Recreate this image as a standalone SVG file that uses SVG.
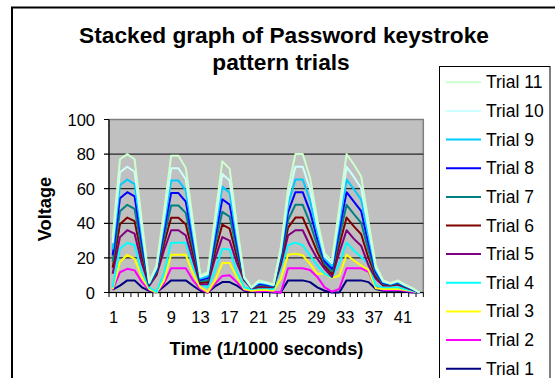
<svg xmlns="http://www.w3.org/2000/svg" width="555" height="378" viewBox="0 0 555 378">
<style>
text{font-family:"Liberation Sans",Arial,sans-serif;fill:#000}
.title{font-size:22.7px;font-weight:bold}
.axt{font-size:18.2px;font-weight:bold}
.tick{font-size:16.5px}
.leg{font-size:17.5px}
.s{fill:none;stroke-width:2;stroke-linejoin:round;vector-effect:non-scaling-stroke}
.s1{stroke:#000080}.s2{stroke:#FF00FF}.s3{stroke:#FFFF00}.s4{stroke:#00FFFF}.s5{stroke:#800080}.s6{stroke:#800000}.s7{stroke:#008080}.s8{stroke:#0000FF}.s9{stroke:#00CCFF}.s10{stroke:#CCFFFF}.s11{stroke:#CCFFCC}
.ll{stroke-width:2}
</style>
<rect x="0" y="0" width="555" height="378" fill="#fff"/>
<rect id="frame" x="12" y="7.5" width="600" height="420" fill="#fff" stroke="#000" stroke-width="2"/>
<g id="title">
<text class="title" x="284" y="43" text-anchor="middle">Stacked graph of Password keystroke</text>
<text class="title" x="281" y="70" text-anchor="middle">pattern trials</text>
</g>
<g id="plot">
<rect x="109" y="119.5" width="314.3" height="173" fill="#C0C0C0" stroke="#808080" stroke-width="1.5"/>
<g stroke="#000" stroke-width="1">
<line x1="109" y1="154.1" x2="423.3" y2="154.1"/>
<line x1="109" y1="188.7" x2="423.3" y2="188.7"/>
<line x1="109" y1="223.3" x2="423.3" y2="223.3"/>
<line x1="109" y1="257.9" x2="423.3" y2="257.9"/>
</g>
<g stroke="#000" stroke-width="1.2">
<line x1="109" y1="119.5" x2="109" y2="292.5"/>
<line x1="109" y1="292.5" x2="423.3" y2="292.5"/>
<path d="M104 119.5H109M104 154.1H109M104 188.7H109M104 223.3H109M104 257.9H109M104 292.5H109"/>
</g>
<line x1="108.5" y1="294.75" x2="424.5" y2="294.75" stroke="#000" stroke-width="4.5" stroke-dasharray="1 6.31"/>
</g>
<g id="y-labels" text-anchor="end">
<text class="tick" x="95" y="125.5">100</text>
<text class="tick" x="95" y="160.1">80</text>
<text class="tick" x="95" y="194.7">60</text>
<text class="tick" x="95" y="229.3">40</text>
<text class="tick" x="95" y="263.9">20</text>
<text class="tick" x="95" y="298.5">0</text>
</g>
<g id="x-labels" text-anchor="middle">
<text class="tick" x="113.5" y="323">1</text>
<text class="tick" x="142.5" y="323">5</text>
<text class="tick" x="171.3" y="323">9</text>
<text class="tick" x="200.4" y="323">13</text>
<text class="tick" x="229.4" y="323">17</text>
<text class="tick" x="258.4" y="323">21</text>
<text class="tick" x="287.4" y="323">25</text>
<text class="tick" x="316.4" y="323">29</text>
<text class="tick" x="345.2" y="323">33</text>
<text class="tick" x="374" y="323">37</text>
<text class="tick" x="403" y="323">41</text>
</g>
<text class="axt" transform="translate(51,209) rotate(-90)" text-anchor="middle">Voltage</text>
<text class="axt" x="266.5" y="355" text-anchor="middle">Time (1/1000 seconds)</text>
<g id="connectors" transform="translate(105.345,292.5) scale(7.31,-1.73)">
<polyline class="s s1" points="1,1.7 2,4 3,7 4,7 5,3 6,1 7,0 8,3.5 9,7 10,7 11,7 12,3.9 13,1 14,0 15,3.5 16,6 17,6 18,4 19,1 20,0.5 21,0.5 22,0.5 23,0 24,0 25,7 26,7 27,7 28,6 29,3 30,1 31,0 32,0 33,7 34,7 35,7 36,6 37,2 38,1 39,1 40,1 41,0.5 42,0 43,0"/>
<polyline class="s s2" points="1,1.7 2,11.7 3,13.7 4,12.8 5,6 6,1.5 7,0 8,5 9,14 10,14 11,14 12,7 13,2 14,0 15,5 16,9.6 17,10 18,6 19,1.5 20,1 21,0.6 22,1 23,0.5 24,0 25,14 26,14 27,14 28,13 29,9 30,3 31,0.5 32,2 33,14 34,14 35,14 36,12 37,3 38,1.5 39,1.5 40,1.5 41,1 42,0.5 43,0"/>
<polyline class="s s3" points="1,2 2,17.6 3,21.8 4,19.5 5,8.9 6,2 7,0 8,6.8 9,21.8 10,21.8 11,21.8 12,10.8 13,2.9 14,0.3 15,6.8 16,17 17,17 18,8.9 19,2 20,1 21,1.5 22,1.5 23,1 24,8 25,21.8 26,22.4 27,21.5 28,16.6 29,10.8 30,10.8 31,8.5 32,9.7 33,21.8 34,18.5 35,15.6 36,13.1 37,2.5 38,2 39,2 40,2 41,1.5 42,0.8 43,0"/>
<polyline class="s s4" points="1,2.9 2,25.3 3,28.8 4,27.3 5,11.8 6,2.9 7,0.3 8,10.8 9,28.8 10,28.8 11,28.8 12,14.7 13,4.8 14,2.9 15,12.7 16,25.3 17,24.9 18,11.8 19,2.9 20,2 21,2.5 22,2.5 23,2 24,14 25,27.3 26,28.8 27,27.3 28,21.4 29,15.6 30,10.8 31,8.9 32,16.6 33,28.8 34,24.3 35,20.5 36,16.6 37,4 38,3 39,3 40,3 41,2 42,1 43,0"/>
<polyline class="s s5" points="1,10.8 2,32 3,36 4,34 5,16.6 6,3.9 7,10 8,24 9,36 10,36 11,33 12,18.5 13,4.8 14,4.8 15,19.5 16,32 17,30 18,17 19,7 20,2.5 21,3 22,3 23,3 24,16 25,33 26,36 27,36 28,27 29,19.5 30,13.7 31,9 32,23 33,36 34,31 35,27 36,15.6 37,8 38,4 39,4 40,4.5 41,3 42,1.5 43,0"/>
<polyline class="s s6" points="1,14.3 2,39.5 3,43.3 4,41.2 5,20.7 6,4.3 7,10.9 8,27.7 9,43.2 10,43.2 11,39.5 12,22.2 13,5.6 14,6 15,23.4 16,39.3 17,36.9 18,20.6 19,7.3 20,2.6 21,3.7 22,3.5 23,3.3 24,17.7 25,37.5 26,43.3 27,43.3 28,33.6 29,23.3 30,15.2 31,10.6 32,27.3 33,43.3 34,38.2 35,33.7 36,19.8 37,9.3 38,4.5 39,4.2 40,4.9 41,3.3 42,1.7 43,0"/>
<polyline class="s s7" points="1,17.9 2,47 3,50.7 4,48.3 5,24.7 6,4.6 7,11.9 8,31.3 9,50.3 10,50.3 11,46 12,25.9 13,6.5 14,7.1 15,27.3 16,46.6 17,43.9 18,24.3 19,7.6 20,2.7 21,4.3 22,4 23,3.5 24,19.3 25,42 26,50.7 27,50.7 28,40.2 29,27 30,16.6 31,12.2 32,31.7 33,50.7 34,45.3 35,40.3 36,24.1 37,10.5 38,5 39,4.5 40,5.3 41,3.5 42,1.8 43,0"/>
<polyline class="s s8" points="1,21.4 2,54.5 3,58 4,55.5 5,28.8 6,5 7,12.8 8,35 9,57.5 10,57.5 11,52.5 12,29.6 13,7.3 14,8.3 15,31.3 16,53.9 17,50.8 18,27.9 19,8 20,2.8 21,5 22,4.5 23,3.8 24,21 25,46.5 26,58 27,58 28,46.8 29,30.8 30,18.1 31,13.8 32,36 33,58 34,52.5 35,47 36,28.3 37,11.8 38,5.5 39,4.7 40,5.8 41,3.8 42,2 43,0"/>
<polyline class="s s9" points="1,24.9 2,62 3,65.3 4,62.7 5,32.9 6,5.3 7,13.7 8,38.7 9,64.7 10,64.7 11,59 12,33.3 13,8.1 14,9.4 15,35.2 16,61.2 17,57.7 18,31.5 19,8.3 20,2.8 21,5.7 22,5 23,4.1 24,22.7 25,51 26,65.3 27,65.3 28,53.3 29,34.5 30,19.5 31,15.3 32,40.3 33,65.3 34,59.7 35,53.7 36,32.5 37,13.1 38,6 39,4.9 40,6.2 41,4 42,2.2 43,0"/>
<polyline class="s s10" points="1,28.5 2,69.5 3,72.7 4,69.8 5,36.9 6,5.7 7,14.7 8,42.3 9,71.8 10,71.8 11,65.5 12,37 13,9 14,10.6 15,39.1 16,68.5 17,64.7 18,35.2 19,8.6 20,2.9 21,6.3 22,5.5 23,4.3 24,24.3 25,55.5 26,72.7 27,72.7 28,59.9 29,38.3 30,21 31,16.9 32,44.7 33,72.7 34,66.8 35,60.3 36,36.8 37,14.3 38,6.5 39,5.2 40,6.6 41,4.3 42,2.3 43,0"/>
<polyline class="s s11" points="1,32 2,77 3,80 4,77 5,41 6,6 7,15.6 8,46 9,79 10,79 11,72 12,40.7 13,9.8 14,11.7 15,43 16,75.8 17,71.6 18,38.8 19,8.9 20,3 21,7 22,6 23,4.6 24,26 25,60 26,80 27,80 28,66.5 29,42 30,22.4 31,18.5 32,49 33,80 34,74 35,67 36,41 37,15.6 38,7 39,5.4 40,7 41,4.5 42,2.5 43,0"/>
</g>
<g id="legend">
<rect x="439.5" y="66.5" width="110.5" height="340" fill="#fff" stroke="#000" stroke-width="1"/>
<g id="leg11"><line class="ll s11" x1="446" y1="82.3" x2="481" y2="82.3"/><text class="leg" x="486" y="88.3">Trial 11</text></g>
<g id="leg10"><line class="ll s10" x1="446" y1="110.9" x2="481" y2="110.9"/><text class="leg" x="486" y="116.9">Trial 10</text></g>
<g id="leg9"><line class="ll s9" x1="446" y1="139.6" x2="481" y2="139.6"/><text class="leg" x="486" y="145.6">Trial 9</text></g>
<g id="leg8"><line class="ll s8" x1="446" y1="168.2" x2="481" y2="168.2"/><text class="leg" x="486" y="174.2">Trial 8</text></g>
<g id="leg7"><line class="ll s7" x1="446" y1="196.9" x2="481" y2="196.9"/><text class="leg" x="486" y="202.9">Trial 7</text></g>
<g id="leg6"><line class="ll s6" x1="446" y1="225.5" x2="481" y2="225.5"/><text class="leg" x="486" y="231.5">Trial 6</text></g>
<g id="leg5"><line class="ll s5" x1="446" y1="254.1" x2="481" y2="254.1"/><text class="leg" x="486" y="260.1">Trial 5</text></g>
<g id="leg4"><line class="ll s4" x1="446" y1="282.8" x2="481" y2="282.8"/><text class="leg" x="486" y="288.8">Trial 4</text></g>
<g id="leg3"><line class="ll s3" x1="446" y1="311.4" x2="481" y2="311.4"/><text class="leg" x="486" y="317.4">Trial 3</text></g>
<g id="leg2"><line class="ll s2" x1="446" y1="340.1" x2="481" y2="340.1"/><text class="leg" x="486" y="346.1">Trial 2</text></g>
<g id="leg1"><line class="ll s1" x1="446" y1="368.7" x2="481" y2="368.7"/><text class="leg" x="486" y="374.7">Trial 1</text></g>
</g>
</svg>
